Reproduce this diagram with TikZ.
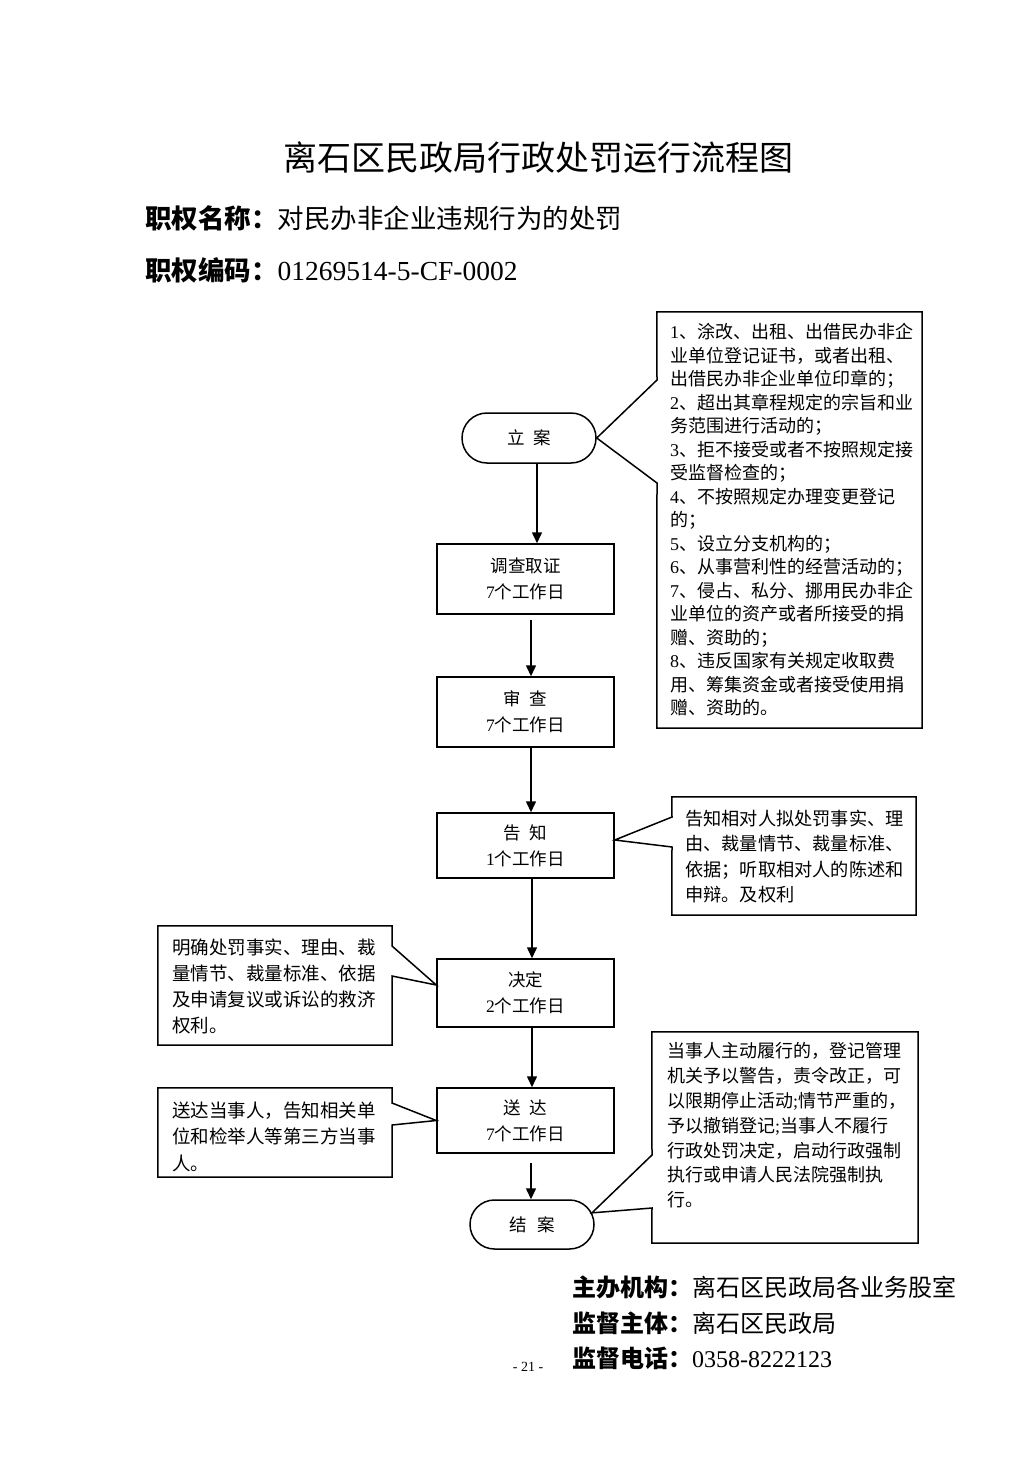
\documentclass[tikz,border=0pt]{standalone}
\usepackage{fontspec}
\setmainfont{Noto Sans CJK SC}
\newfontfamily\dg{Liberation Serif}
\usetikzlibrary{arrows.meta,shapes.misc}
\begin{document}
\begin{tikzpicture}[x=1pt,y=-1pt,
  ln/.style={line width=1.5pt},
  stepbox/.style={draw,ln,minimum width=177pt,inner sep=0pt,align=center,font=\fontsize{17.5}{26}\selectfont},
  term/.style={draw,ln,rounded rectangle,inner sep=0pt,font=\fontsize{17.5}{21}\selectfont},
  arr/.style={ln,-{Triangle[width=10pt,length=11pt]}},
  ctext/.style={anchor=west,align=left,inner sep=0pt},
  cbox/.style={inner sep=0pt,draw=none},
  head/.style={anchor=west,inner sep=0pt},
]
\useasboundingbox (0,0) rectangle (1033,1461);
\fill[white] (0,0) rectangle (1033,1461);

% headings
\node[font=\fontsize{34}{40}\selectfont] (title) at (538,158) {离石区民政局行政处罚运行流程图};
\node[head,font=\fontsize{26.5}{30}\selectfont] (name) at (145,218) {\bfseries 职权名称：\mdseries 对民办非企业违规行为的处罚};
\node[head,font=\fontsize{26.5}{30}\selectfont] (code) at (145,270) {\bfseries 职权编码：\mdseries{\dg\fontsize{27.5}{30}\selectfont 01269514-5-CF-0002}};

% flow nodes
\node[term,minimum width=134pt,minimum height=50pt] (lian) at (529,438) {立\hspace{0.5em}案};
\node[stepbox,minimum height=70pt] (dcqz) at (525.5,579) {调查取证\\{\dg 7}个工作日};
\node[stepbox,minimum height=70pt] (sc) at (525.5,712) {审\hspace{0.5em}查\\{\dg 7}个工作日};
\node[stepbox,minimum height=65pt] (gz) at (525.5,845.5) {告\hspace{0.5em}知\\{\dg 1}个工作日};
\node[stepbox,minimum height=68pt] (jd) at (525.5,993) {决定\\{\dg 2}个工作日};
\node[stepbox,minimum height=65pt] (sd) at (525.5,1120.5) {送\hspace{0.5em}达\\{\dg 7}个工作日};
\node[term,minimum width=124pt,minimum height=49pt] (ja) at (532,1224.5) {结\hspace{0.6em}案};

% arrows
\draw[arr] ([xshift=8pt]lian.south) -- ([xshift=11.5pt]dcqz.north);
\draw[arr] ([xshift=5.5pt,yshift=-5pt]dcqz.south) -- ([xshift=5.5pt]sc.north);
\draw[arr] ([xshift=5.5pt]sc.south) -- ([xshift=5.5pt]gz.north);
\draw[arr] ([xshift=6.5pt]gz.south) -- ([xshift=6.5pt]jd.north);
\draw[arr] ([xshift=6.5pt]jd.south) -- ([xshift=6.5pt]sd.north);
\draw[arr] ([xshift=5.5pt,yshift=-9pt]sd.south) -- ([xshift=-1pt]ja.north);

% callout 1
\node[cbox,minimum width=265pt,minimum height=416pt] (c1box) at (789.5,520) {};
\node[ctext,font=\fontsize{18}{23.5}\selectfont] (c1) at (670,520) {{\dg 1}、涂改、出租、出借民办非企\\业单位登记证书，或者出租、\\出借民办非企业单位印章的；\\{\dg 2}、超出其章程规定的宗旨和业\\务范围进行活动的；\\{\dg 3}、拒不接受或者不按照规定接\\受监督检查的；\\{\dg 4}、不按照规定办理变更登记\\的；\\{\dg 5}、设立分支机构的；\\{\dg 6}、从事营利性的经营活动的；\\{\dg 7}、侵占、私分、挪用民办非企\\业单位的资产或者所接受的捐\\赠、资助的；\\{\dg 8}、违反国家有关规定收取费\\用、筹集资金或者接受使用捐\\赠、资助的。};
\coordinate (c1a) at (657,380);
\coordinate (c1b) at (657,483);
\draw[ln] (c1box.north west) -- (c1box.north east) -- (c1box.south east) -- (c1box.south west) -- (c1b) -- (lian.east) -- (c1a) -- cycle;

% callout 2
\node[cbox,minimum width=244pt,minimum height=118pt] (c2box) at (794,856) {};
\node[ctext,font=\fontsize{18.2}{25.6}\selectfont] (c2) at (685,856.5) {告知相对人拟处罚事实、理\\由、裁量情节、裁量标准、\\依据；听取相对人的陈述和\\申辩。及权利};
\coordinate (c2a) at (672,817);
\coordinate (c2b) at (672,847);
\draw[ln] (c2box.north west) -- (c2box.north east) -- (c2box.south east) -- (c2box.south west) -- (c2b) -- ([yshift=5.5pt]gz.east) -- (c2a) -- cycle;

% callout 3
\node[cbox,minimum width=234pt,minimum height=119pt] (c3box) at (275,985.5) {};
\node[ctext,font=\fontsize{18.5}{26}\selectfont] (c3) at (172,986.5) {明确处罚事实、理由、裁\\量情节、裁量标准、依据\\及申请复议或诉讼的救济\\权利。};
\coordinate (c3a) at (392,946);
\coordinate (c3b) at (392,976);
\draw[ln] (c3box.north west) -- (c3box.north east) -- (c3a) -- ([yshift=8pt]jd.west) -- (c3b) -- (c3box.south east) -- (c3box.south west) -- cycle;

% callout 4
\node[cbox,minimum width=234pt,minimum height=89pt] (c4box) at (275,1132.5) {};
\node[ctext,font=\fontsize{18.5}{26.5}\selectfont] (c4) at (172,1136.5) {送达当事人，告知相关单\\位和检举人等第三方当事\\人。};
\coordinate (c4a) at (392,1103);
\coordinate (c4b) at (392,1125);
\draw[ln] (c4box.north west) -- (c4box.north east) -- (c4a) -- (sd.west) -- (c4b) -- (c4box.south east) -- (c4box.south west) -- cycle;

% callout 5
\node[cbox,minimum width=266pt,minimum height=211pt] (c5box) at (785,1137.5) {};
\node[ctext,font=\fontsize{18}{24.8}\selectfont] (c5) at (667,1125.5) {当事人主动履行的，登记管理\\机关予以警告，责令改正，可\\以限期停止活动{\dg ;}情节严重的，\\予以撤销登记{\dg ;}当事人不履行\\行政处罚决定，启动行政强制\\执行或申请人民法院强制执\\行。};
\coordinate (c5a) at (652,1155);
\coordinate (c5b) at (652,1208);
\draw[ln] (c5box.north west) -- (c5box.north east) -- (c5box.south east) -- (c5box.south west) -- (c5b) -- (ja.11) -- (c5a) -- cycle;

% footer
\node[head,font=\fontsize{24}{28}\selectfont] (f1) at (572,1287) {\bfseries 主办机构：\mdseries 离石区民政局各业务股室};
\node[head,font=\fontsize{24}{28}\selectfont] (f2) at (572,1323) {\bfseries 监督主体：\mdseries 离石区民政局};
\node[head,font=\fontsize{24}{28}\selectfont] (f3) at (572,1358) {\bfseries 监督电话：\mdseries{\dg 0358-8222123}};
\node[font=\dg\fontsize{14}{16}\selectfont] (pg) at (528,1367) {- 21 -};
\end{tikzpicture}
\end{document}
